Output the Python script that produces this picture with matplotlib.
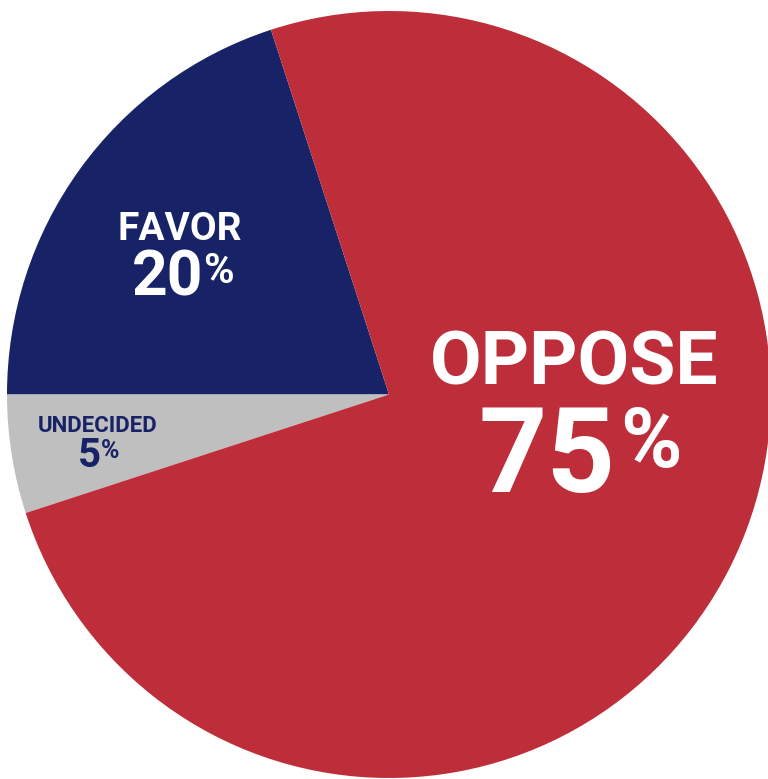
import matplotlib
matplotlib.use("Agg")
import matplotlib.pyplot as plt

# datos de la encuesta
categorias = ["FAVOR", "UNDECIDED", "OPPOSE"]
valores = [20, 5, 75]
colores = ["#172366", "#BFBFBF", "#BE2E3A"]

W, H = 768, 779
plt.rcParams["font.family"] = ["Liberation Sans Narrow", "Roboto", "DejaVu Sans"]

fig = plt.figure(figsize=(W / 100, H / 100), dpi=100)
ax = fig.add_axes([0, 0, 1, 1])

ax.pie(valores, colors=colores, startangle=108, counterclock=True,
       wedgeprops=dict(linewidth=0))

# circulo en pixeles: centro (389, 394.5), radio 382 x 383.5
cx, cy, rx, ry = 389.0, 394.5, 382.0, 383.5
ax.set_aspect("auto")
ax.set_xlim(-cx / rx, (W - cx) / rx)
ax.set_ylim(-(H - cy) / ry, cy / ry)
ax.axis("off")


def px(x, y):
    return (x / W, 1 - y / H)


def texto(x, y, s, size, color="white", ha="center"):
    fig.text(*px(x, y), s, fontsize=size, color=color, ha=ha, va="baseline",
             fontweight="bold", transform=fig.transFigure)


# OPPOSE
texto(574, 384, "OPPOSE", 54)
texto(615, 492, "75", 86, ha="right")
texto(620, 467, "%", 60, ha="left")

# FAVOR
texto(180, 240, "FAVOR", 28)
texto(203, 295, "20", 45, ha="right")
texto(203, 283, "%", 30, ha="left")

# UNDECIDED
texto(98, 432, "UNDECIDED", 16, color="#172366")
texto(101, 467, "5", 29, color="#172366", ha="right")
texto(101, 458, "%", 18, color="#172366", ha="left")

fig.savefig("out.png", dpi=100)
